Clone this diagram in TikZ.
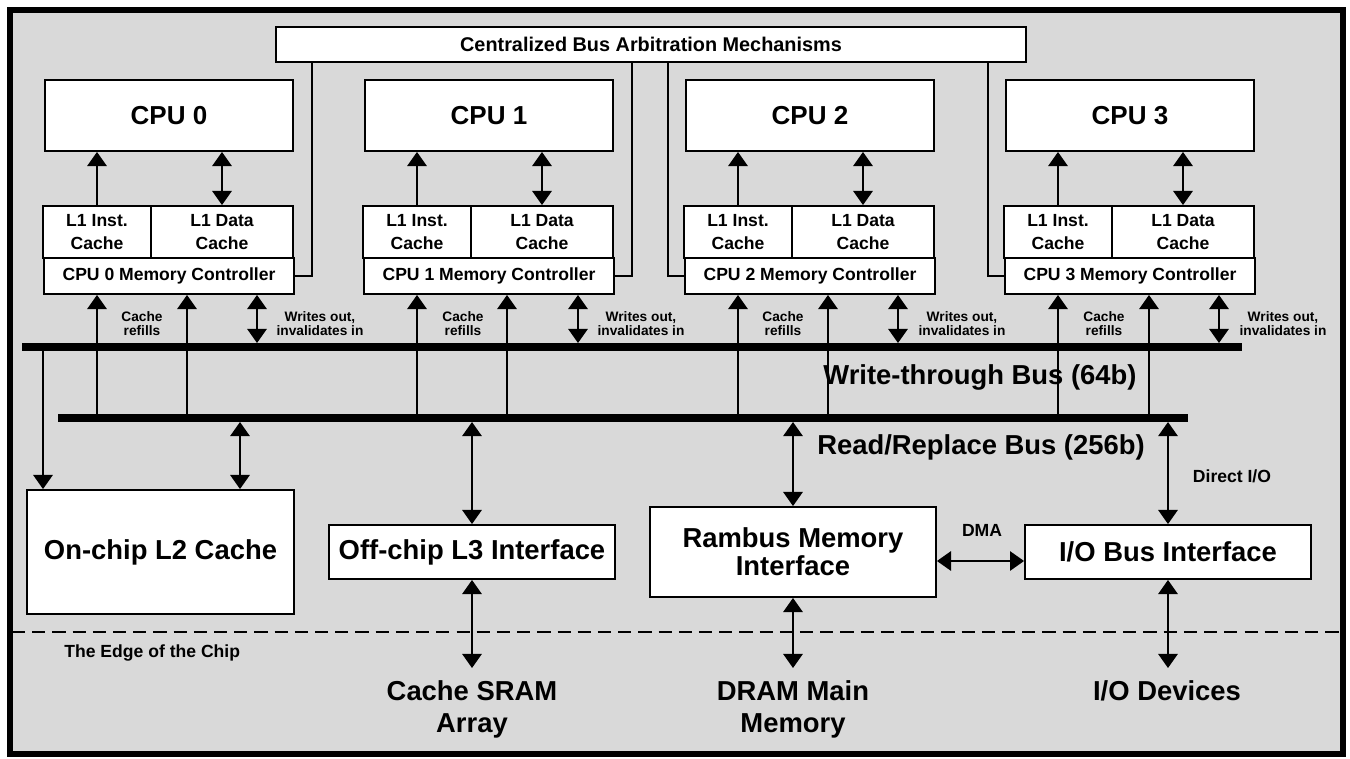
\documentclass[tikz,border=0pt]{standalone}
\usepackage{fontspec}
\setmainfont{Liberation Sans}
\usetikzlibrary{arrows.meta}
\definecolor{chipgray}{RGB}{217,217,217}

\begin{document}
\begin{tikzpicture}[x=0.02cm, y=-0.02cm,
  box/.style={draw, fill=white, line width=1.1pt, inner sep=0pt, align=center},
  cpu/.style={box, minimum width=4.96cm, minimum height=1.42cm, font=\fontsize{14.8}{16}\selectfont\bfseries},
  l1i/.style={box, minimum width=2.16cm, minimum height=1.04cm, font=\fontsize{10}{13}\selectfont\bfseries},
  l1d/.style={box, minimum width=2.84cm, minimum height=1.04cm, font=\fontsize{10}{13}\selectfont\bfseries},
  ctrl/.style={box, minimum width=5cm, minimum height=0.72cm, font=\fontsize{10}{12}\selectfont\bfseries},
  big/.style={align=center, font=\fontsize{15.6}{16}\selectfont\bfseries},
  bigb/.style={align=center, inner sep=0pt, inner ysep=0.24cm, anchor=north, font=\fontsize{15.6}{18.2}\selectfont\bfseries},
  small/.style={align=center, inner sep=0pt, font=\fontsize{7.8}{8}\selectfont\bfseries},
  note/.style={inner sep=0pt, font=\fontsize{10}{12}\selectfont\bfseries},
  arr/.style={line width=1.1pt, -{Triangle[width=11pt,length=8pt]}},
  dbl/.style={line width=1.1pt, {Triangle[width=11pt,length=8pt]}-{Triangle[width=11pt,length=8pt]}},
  bus/.style={line width=4.5pt},
  arbline/.style={line width=0.9pt}]
\useasboundingbox (0,0) rectangle (1350,758);

% the chip
\draw[fill=chipgray, line width=3.2pt] (10,10) rectangle (1343,754);
\draw[line width=1.1pt, dash pattern=on 7.5pt off 4pt] (12,632) -- (1341,632);

\node[box, minimum width=15cm, minimum height=0.7cm, font=\fontsize{11.3}{13}\selectfont\bfseries] (arb) at (651,44.5) {Centralized Bus Arbitration Mechanisms};

\node[cpu] (c0) at (169,115.5) {CPU 0};
\node[cpu] (c1) at (489,115.5) {CPU 1};
\node[cpu] (c2) at (810,115.5) {CPU 2};
\node[cpu] (c3) at (1130,115.5) {CPU 3};

\node[l1i] (i0) at (97,232) {L1 Inst.\\Cache};
\node[l1d] (d0) at (222,232) {L1 Data\\Cache};
\node[l1i] (i1) at (417,232) {L1 Inst.\\Cache};
\node[l1d] (d1) at (542,232) {L1 Data\\Cache};
\node[l1i] (i2) at (738,232) {L1 Inst.\\Cache};
\node[l1d] (d2) at (863,232) {L1 Data\\Cache};
\node[l1i] (i3) at (1058,232) {L1 Inst.\\Cache};
\node[l1d] (d3) at (1183,232) {L1 Data\\Cache};

\node[ctrl] (m0) at (169,276) {CPU 0 Memory Controller};
\node[ctrl] (m1) at (489,276) {CPU 1 Memory Controller};
\node[ctrl] (m2) at (810,276) {CPU 2 Memory Controller};
\node[ctrl] (m3) at (1130,276) {CPU 3 Memory Controller};

\node[small] (r0) at (142,324) {Cache\\refills};
\node[small] (r1) at (463,324) {Cache\\refills};
\node[small] (r2) at (783,324) {Cache\\refills};
\node[small] (r3) at (1104,324) {Cache\\refills};
\node[small] (o0) at (320,324) {Writes out,\\invalidates in};
\node[small] (o1) at (641,324) {Writes out,\\invalidates in};
\node[small] (o2) at (962,324) {Writes out,\\invalidates in};
\node[small] (o3) at (1283,324) {Writes out,\\invalidates in};

\node[big] (wtb) at (980,377) {Write-through Bus (64b)};
\node[big] (rrb) at (981,447) {Read/Replace Bus (256b)};

\node[box, big, minimum width=5.34cm, minimum height=2.48cm] (l2) at (160.5,552) {On-chip L2 Cache};
\node[box, big, minimum width=5.72cm, minimum height=1.08cm] (l3) at (472,552) {Off-chip L3 Interface};
\node[box, big, minimum width=5.72cm, minimum height=1.8cm] (ram) at (793,552) {Rambus Memory\\Interface};
\node[box, big, minimum width=5.72cm, minimum height=1.08cm] (io) at (1168,552) {I/O Bus Interface};

\node[note] (dma) at (982,530) {DMA};
\node[note] (dio) at (1232,476) {Direct I/O};
\node[note, anchor=west] (edge) at (64,653) {The Edge of the Chip};

\node[bigb] (sram) at (472,668) {Cache SRAM\\Array};
\node[bigb] (dram) at (793,668) {DRAM Main\\Memory};
\node[bigb] (dev) at (1167,668) {I/O Devices};

% buses
\coordinate (wl) at (22,347);
\coordinate (wr) at (1242,347);
\coordinate (rl) at (58,418);
\coordinate (rr) at (1188,418);
\coordinate (rb) at (0,422);
\path[draw,bus] (wl) -- (wr);
\path[draw,bus] (rl) -- (rr);

% arbitration lines
\coordinate (a0) at (312,62);
\coordinate (a1) at (632,62);
\coordinate (a2) at (668,62);
\coordinate (a3) at (988,62);
\path[draw,arbline] (a0) |- (m0.east);
\path[draw,arbline] (a1) |- (m1.east);
\path[draw,arbline] (a2) |- (m2.west);
\path[draw,arbline] (a3) |- (m3.west);

% L1 to CPU
\path[draw,arr] (i0.north) -- (i0.north |- c0.south);
\path[draw,dbl] (d0.north) -- (d0.north |- c0.south);
\path[draw,arr] (i1.north) -- (i1.north |- c1.south);
\path[draw,dbl] (d1.north) -- (d1.north |- c1.south);
\path[draw,arr] (i2.north) -- (i2.north |- c2.south);
\path[draw,dbl] (d2.north) -- (d2.north |- c2.south);
\path[draw,arr] (i3.north) -- (i3.north |- c3.south);
\path[draw,dbl] (d3.north) -- (d3.north |- c3.south);

% buses to controllers
\coordinate (f0) at (187,418);
\coordinate (f1) at (507,418);
\coordinate (f2) at (828,418);
\coordinate (f3) at (1149,418);
\coordinate (w0) at (257,343);
\coordinate (w1) at (578,343);
\coordinate (w2) at (898,343);
\coordinate (w3) at (1219,343);
\path[draw,arr] (i0 |- rl) -- (i0 |- m0.south);
\path[draw,arr] (f0) -- (f0 |- m0.south);
\path[draw,dbl] (w0) -- (w0 |- m0.south);
\path[draw,arr] (i1 |- rl) -- (i1 |- m1.south);
\path[draw,arr] (f1) -- (f1 |- m1.south);
\path[draw,dbl] (w1) -- (w1 |- m1.south);
\path[draw,arr] (i2 |- rl) -- (i2 |- m2.south);
\path[draw,arr] (f2) -- (f2 |- m2.south);
\path[draw,dbl] (w2) -- (w2 |- m2.south);
\path[draw,arr] (i3 |- rl) -- (i3 |- m3.south);
\path[draw,arr] (f3) -- (f3 |- m3.south);
\path[draw,dbl] (w3) -- (w3 |- m3.south);

% buses to the lower blocks
\coordinate (wl2) at (43,347);
\coordinate (rl2) at (240,422);
\path[draw,arr] (wl2) -- (wl2 |- l2.north);
\path[draw,dbl] (rl2) -- (rl2 |- l2.north);
\path[draw,dbl] (l3 |- rb) -- (l3.north);
\path[draw,dbl] (ram |- rb) -- (ram.north);
\path[draw,dbl] (io |- rb) -- (io.north);
\path[draw,dbl] ([yshift=-0.18cm]ram.east) -- ([yshift=-0.18cm]io.west);

% off the chip
\path[draw,dbl] (l3.south) -- (sram.north);
\path[draw,dbl] (ram.south) -- (dram.north);
\path[draw,dbl] (io.south) -- (io.south |- dev.north);
\end{tikzpicture}
\end{document}
